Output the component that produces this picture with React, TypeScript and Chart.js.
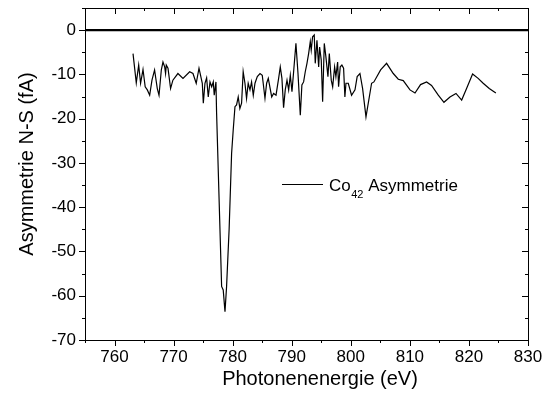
import React, { useEffect, useRef } from "react";
import { Chart, registerables } from "chart.js";

Chart.register(...registerables);

const energy = [
  763.13, 763.68, 764.09, 764.41, 764.82, 765.19, 765.55, 765.95, 766.34, 766.78,
  767.24, 767.53, 767.92, 768.2, 768.49, 768.64, 768.76, 769.05, 769.49, 769.88,
  770.73, 771.59, 772.72, 773.28, 773.83, 774.3, 774.86, 775.03, 775.31, 775.59,
  775.87, 776.16, 776.45, 776.72, 776.88, 777.17, 777.28, 778.13, 778.4, 778.7,
  778.97, 779.4, 779.82, 780.09, 780.39, 780.66, 780.94, 781.22, 781.51, 781.78,
  782.08, 782.35, 782.63, 782.93, 783.2, 783.49, 783.78, 784.17, 784.63, 785.01,
  785.47, 785.75, 786.03, 786.61, 786.93, 787.34, 787.78, 788.06, 788.34, 788.62,
  788.9, 789.2, 789.48, 789.76, 790.04, 790.32, 790.71, 791.06, 791.45, 791.72,
  792.01, 792.29, 792.58, 792.86, 793.14, 793.3, 793.53, 793.81, 793.98, 794.27,
  794.56, 794.72, 795.0, 795.23, 795.51, 795.78, 796.13, 796.36, 796.69, 796.93,
  797.26, 797.48, 797.77, 797.93, 798.21, 798.49, 798.78, 799.0, 799.18, 799.57,
  800.13, 800.71, 801.08, 801.55, 802.0, 802.57, 803.52, 803.91, 805.05, 806.06,
  807.19, 808.04, 808.88, 810.02, 810.87, 811.81, 812.83, 813.67, 814.81, 815.77,
  816.79, 817.81, 818.77, 819.6, 820.62, 821.56, 822.41, 823.44, 824.56,
];

const asymmetrie = [
  -5.3, -11.9, -7.9, -12.0, -8.9, -12.8, -13.5, -14.7, -11.3, -9.0,
  -13.2, -14.7, -9.0, -7.2, -8.3, -9.8, -7.9, -8.6, -13.2, -11.3,
  -9.8, -10.9, -9.4, -9.8, -12.0, -8.6, -12.0, -16.5, -12.0, -10.8,
  -15.1, -11.7, -12.8, -11.7, -14.7, -11.7, -18.8, -57.9, -58.7, -63.6,
  -57.9, -45.0, -27.8, -22.6, -17.3, -16.9, -15.1, -17.7, -16.5, -9.4,
  -12.0, -15.4, -12.0, -13.5, -11.7, -14.7, -12.0, -10.5, -9.8, -10.2,
  -15.4, -12.0, -10.9, -15.1, -14.3, -14.7, -10.9, -8.3, -10.9, -17.5,
  -13.5, -11.3, -13.5, -10.2, -13.9, -9.4, -3.0, -9.8, -19.2, -12.4,
  -11.7, -9.4, -7.5, -5.3, -2.6, -4.5, -1.5, -1.1, -7.5, -2.3,
  -8.3, -3.8, -6.8, -16.2, -3.0, -6.0, -10.5, -5.3, -11.3, -12.8,
  -8.3, -10.5, -7.2, -12.8, -8.3, -7.9, -8.6, -15.1, -12.0, -12.0,
  -14.7, -13.5, -10.5, -9.8, -13.2, -19.6, -12.0, -11.7, -9.0, -7.5,
  -9.8, -11.1, -11.4, -13.5, -14.2, -12.3, -11.7, -12.5, -14.7, -16.3,
  -15.1, -14.3, -15.8, -13.2, -9.9, -10.9, -12.0, -13.2, -14.2,
];

const zeroLineX = [755, 830];
const zeroLineY = [0, 0];

const xTicks = [760, 770, 780, 790, 800, 810, 820, 830];
const yTicks = [-70, -60, -50, -40, -30, -20, -10, 0];
const xMin = 755, xMax = 830, yMin = -70, yMax = 5;

const xTitle = "Photonenenergie (eV)";
const yTitle = "Asymmetrie N-S (fA)";
const legendMain = "Co";
const legendSub = "42";
const legendRest = " Asymmetrie";

const FONT = "Arial, 'Liberation Sans', sans-serif";

const framePlugin = {
  id: "frameTicks",
  afterDraw(chart: any) {
    const ctx = chart.ctx;
    const { left, right, top, bottom } = chart.chartArea;
    const xs = chart.scales.x;
    const ys = chart.scales.y;
    ctx.save();
    ctx.strokeStyle = "#000";
    ctx.lineWidth = 1;
    ctx.strokeRect(Math.round(left) + 0.5, Math.round(top) + 0.5, Math.round(right - left), Math.round(bottom - top));
    ctx.beginPath();
    for (let v = xMin; v <= xMax; v += 5) {
      const px = Math.round(xs.getPixelForValue(v)) + 0.5;
      const len = v % 10 === 0 ? 6 : 3;
      ctx.moveTo(px, bottom);
      ctx.lineTo(px, bottom + len);
      ctx.moveTo(px, top);
      ctx.lineTo(px, top + len);
    }
    for (let v = yMin; v <= yMax; v += 5) {
      const py = Math.round(ys.getPixelForValue(v)) + 0.5;
      const len = v % 10 === 0 ? 6 : 3;
      ctx.moveTo(left, py);
      ctx.lineTo(left - len, py);
      ctx.moveTo(right, py);
      ctx.lineTo(right - len, py);
    }
    ctx.stroke();

    // axis titles
    ctx.fillStyle = "#000";
    ctx.font = `20px ${FONT}`;
    ctx.textAlign = "center";
    ctx.textBaseline = "middle";
    ctx.fillText(xTitle, 320, 379);
    ctx.save();
    ctx.translate(27, 164);
    ctx.rotate(-Math.PI / 2);
    ctx.fillText(yTitle, 0, 0);
    ctx.restore();

    // legend
    const ly = 184.5;
    ctx.beginPath();
    ctx.lineWidth = 1.2;
    ctx.moveTo(282, ly);
    ctx.lineTo(323, ly);
    ctx.stroke();
    ctx.textAlign = "left";
    ctx.textBaseline = "alphabetic";
    ctx.font = `17px ${FONT}`;
    let tx = 329;
    ctx.fillText(legendMain, tx, 191);
    tx += ctx.measureText(legendMain).width + 0.5;
    ctx.font = `11px ${FONT}`;
    ctx.fillText(legendSub, tx, 198);
    tx += ctx.measureText(legendSub).width;
    ctx.font = `17px ${FONT}`;
    ctx.fillText(legendRest, tx, 191);
    ctx.restore();
  },
};

export default function App() {
  const ref = useRef<HTMLCanvasElement | null>(null);
  useEffect(() => {
    if (!ref.current) return;
    const data = energy.map((e, i) => ({ x: e, y: asymmetrie[i] }));
    const zero = zeroLineX.map((e, i) => ({ x: e, y: zeroLineY[i] }));
    const chart = new Chart(ref.current, {
      type: "line",
      data: {
        datasets: [
          {
            label: "Co42 Asymmetrie",
            data,
            borderColor: "#000",
            borderWidth: 1.2,
            pointRadius: 0,
            tension: 0,
            fill: false,
          },
          {
            label: "zero",
            data: zero,
            borderColor: "#000",
            borderWidth: 2.2,
            pointRadius: 0,
            fill: false,
          },
        ],
      },
      options: {
        animation: false,
        responsive: false,
        layout: { padding: { left: 0, right: 24, top: 8, bottom: 0 } },
        plugins: { legend: { display: false }, tooltip: { enabled: false } },
        scales: {
          x: {
            type: "linear",
            min: xMin,
            max: xMax,
            grid: { display: false, drawTicks: false },
            border: { display: false },
            afterBuildTicks: (s: any) => {
              s.ticks = xTicks.map((v) => ({ value: v }));
            },
            afterFit: (s: any) => {
              s.height = 63;
              s.paddingLeft = 0;
              s.paddingRight = 0;
            },
            ticks: {
              padding: 7,
              color: "#000",
              font: { family: FONT, size: 17 },
              maxRotation: 0,
              autoSkip: false,
            },
          },
          y: {
            type: "linear",
            min: yMin,
            max: yMax,
            grid: { display: false, drawTicks: false },
            border: { display: false },
            afterBuildTicks: (s: any) => {
              s.ticks = yTicks.map((v) => ({ value: v }));
            },
            afterFit: (s: any) => {
              s.width = 85;
              s.paddingTop = 0;
              s.paddingBottom = 0;
            },
            ticks: {
              padding: 9,
              color: "#000",
              font: { family: FONT, size: 17 },
              autoSkip: false,
            },
          },
        },
      },
      plugins: [framePlugin],
    });
    return () => chart.destroy();
  }, []);
  return (
    <div style={{ position: "absolute", left: 0, top: 0, width: 552, height: 403, background: "#fff" }}>
      <canvas ref={ref} width={552} height={403} />
    </div>
  );
}
